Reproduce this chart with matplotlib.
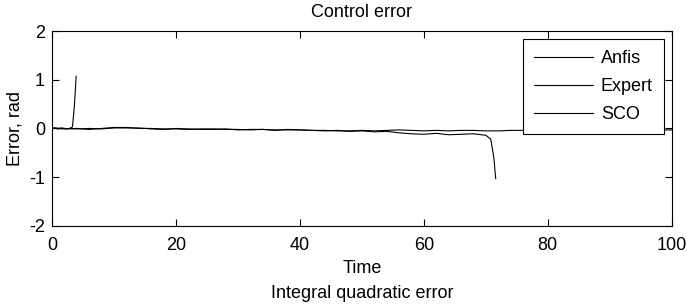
import matplotlib.pyplot as plt
import matplotlib as mpl

mpl.rcParams['font.family'] = ['Liberation Sans', 'DejaVu Sans']
mpl.rcParams['font.size'] = 13
mpl.rcParams['axes.unicode_minus'] = False

# Anfis: diverges shortly after start
anfis_t = [0, 0.5, 1, 1.5, 2, 2.5, 3, 3.3, 3.6, 3.9]
anfis_e = [0.0, 0.01, -0.01, 0.01, 0.0, -0.01, 0.01, 0.03, 0.45, 1.07]

# Expert: stays near zero over the whole run
expert_t = [0, 2, 4, 6, 8, 10, 12, 14, 16, 18, 20, 22, 24, 26, 28, 30, 32, 34, 36, 38,
            40, 42, 44, 46, 48, 50, 52, 54, 56, 58, 60, 62, 64, 66, 68, 70, 72, 74, 76, 78,
            80, 82, 84, 86, 88, 90, 92, 94, 96, 98, 100]
expert_e = [0.00, -0.01, 0.00, -0.02, 0.00, 0.02, 0.02, 0.00, 0.00, -0.01, -0.01, -0.02,
            -0.01, -0.01, -0.02, -0.02, -0.03, -0.02, -0.03, -0.03, -0.03, -0.04, -0.04,
            -0.05, -0.05, -0.04, -0.05, -0.04, -0.03, -0.04, -0.05, -0.04, -0.05, -0.04,
            -0.04, -0.05, -0.05, -0.04, -0.04, -0.05, -0.04, -0.04, -0.03, -0.04, -0.04,
            -0.03, -0.03, -0.04, -0.03, -0.03, -0.03]

# SCO: drifts down and diverges near t = 72
sco_t = [0, 2, 4, 6, 8, 10, 12, 14, 16, 18, 20, 22, 24, 26, 28, 30, 32, 34, 36, 38,
         40, 42, 44, 46, 48, 50, 52, 54, 56, 58, 60, 62, 64, 66, 68, 70, 70.8, 71.3, 71.6]
sco_e = [0.01, 0.00, -0.01, 0.00, -0.01, 0.01, 0.01, 0.01, -0.01, -0.02, 0.00, -0.01,
         -0.02, -0.02, -0.01, -0.03, -0.02, -0.02, -0.04, -0.02, -0.03, -0.04, -0.05,
         -0.04, -0.06, -0.05, -0.07, -0.06, -0.09, -0.11, -0.12, -0.10, -0.13, -0.12,
         -0.11, -0.14, -0.22, -0.6, -1.03]

fig = plt.figure(figsize=(6.87, 3.04), dpi=100)
ax = fig.add_axes([0.0757, 0.257, 0.902, 0.641])

ax.plot(anfis_t, anfis_e, color='black', lw=0.8, label='Anfis')
ax.plot(expert_t, expert_e, color='black', lw=0.8, label='Expert')
ax.plot(sco_t, sco_e, color='black', lw=0.8, label='SCO')

ax.set_xlim(0, 100)
ax.set_ylim(-2, 2)
ax.set_xticks([0, 20, 40, 60, 80, 100])
ax.set_yticks([-2, -1, 0, 1, 2])
ax.tick_params(direction='in', top=True, right=True, length=5, width=0.8)
ax.tick_params(axis='x', pad=8)
ax.tick_params(axis='y', pad=5)
for s in ax.spines.values():
    s.set_linewidth(0.8)

ax.set_title('Control error', fontsize=13, pad=10)
ax.set_xlabel('Time', labelpad=4)
ax.set_ylabel('Error, rad', labelpad=4)

leg = ax.legend(loc='upper right', fancybox=False, framealpha=1, edgecolor='black',
                handlelength=3.3, handletextpad=0.4, borderaxespad=0.45,
                labelspacing=0.62, borderpad=0.6)
leg.get_frame().set_linewidth(0.8)

fig.text(0.527, 0.035, 'Integral quadratic error', ha='center', va='center', fontsize=13)

fig.savefig('out.png', dpi=100)
